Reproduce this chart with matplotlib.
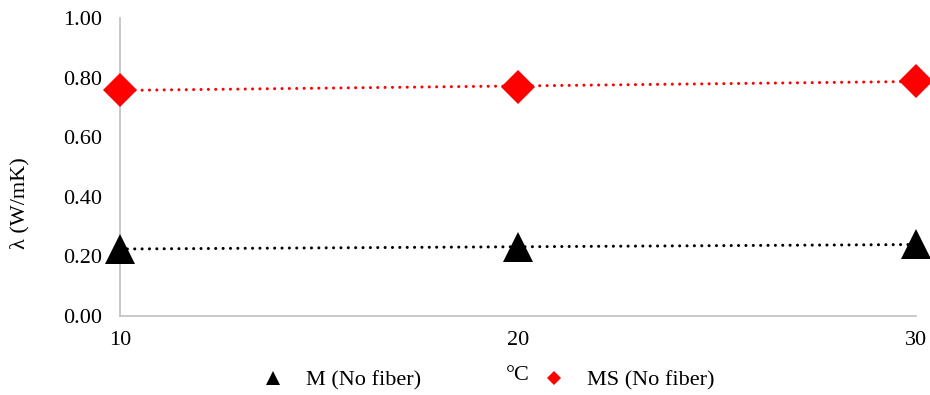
import numpy as np
import matplotlib
matplotlib.use("Agg")
import matplotlib.pyplot as plt
from matplotlib.lines import Line2D

plt.rcParams['font.family'] = ['Liberation Serif', 'DejaVu Serif']

# Thermal conductivity vs temperature
temps = [10, 20, 30]
m_values = [0.225, 0.232, 0.240]     # M (No fiber)
ms_values = [0.758, 0.770, 0.788]    # MS (No fiber)
y_ticks = [0.0, 0.2, 0.4, 0.6, 0.8, 1.0]

fig = plt.figure(figsize=(9.3, 3.95), dpi=100)
ax = fig.add_axes([120 / 930, 1 - 316 / 395, 796 / 930, 298 / 395])

x = np.array(temps, dtype=float)
dots = (0, (0.01, 2.4))

# linear trend lines (dotted)
for vals, col in [(m_values, 'black'), (ms_values, '#ff0000')]:
    k, b = np.polyfit(x, vals, 1)
    ax.plot(x, k * x + b, color=col, lw=2.2, linestyle=dots,
            dash_capstyle='round', zorder=2)

ax.plot(temps, m_values, '^', color='black', ms=22, mew=0, zorder=3, clip_on=False)
ax.plot(temps, ms_values, 'D', color='#ff0000', ms=17, mew=0, zorder=3, clip_on=False)

ax.set_xlim(10, 30)
ax.set_ylim(0, 1.0)
ax.set_xticks(temps)
ax.set_yticks(y_ticks)
ax.set_yticklabels([f"{v:.2f}" for v in y_ticks])
ax.tick_params(axis='both', length=0, labelsize=16)
ax.tick_params(axis='y', pad=13)
ax.tick_params(axis='x', pad=11)

for side in ['top', 'right']:
    ax.spines[side].set_visible(False)
for side in ['left', 'bottom']:
    ax.spines[side].set_color('#bfbfbf')
    ax.spines[side].set_linewidth(1.2)

fig.text(20 / 930, 1 - 203 / 395, 'λ (W/mK)', rotation=90, ha='center', va='center', fontsize=16)
fig.text(518 / 930, 1 - 376 / 395, '°C', ha='center', va='center', fontsize=16)

handles = [
    Line2D([], [], marker='^', color='black', ls='none', ms=10, mew=0),
    Line2D([], [], marker='D', color='#ff0000', ls='none', ms=7.5, mew=0),
]
fig.legend(handles, ['M (No fiber)', 'MS (No fiber)'], ncol=2, frameon=False,
           loc='center', bbox_to_anchor=(486 / 930, 1 - 380 / 395),
           fontsize=16, handlelength=1.4, handletextpad=0.8, columnspacing=5.27)

fig.savefig('out.png', dpi=100)
